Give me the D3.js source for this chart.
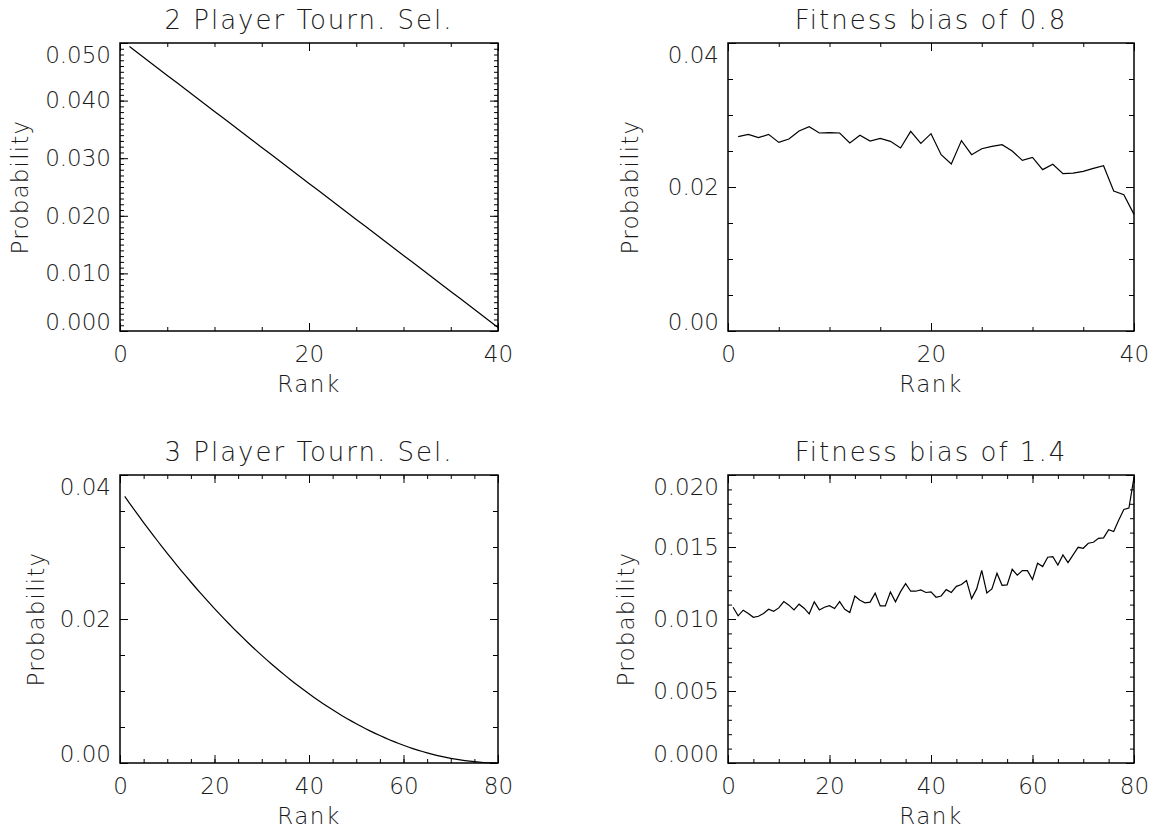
<!DOCTYPE html>
<html><head><meta charset="utf-8">
<script src="https://cdn.jsdelivr.net/npm/d3@7/dist/d3.min.js"></script>
<style>
body{margin:0;background:#fff}
svg text{font-family:"DejaVu Sans",sans-serif;font-weight:200;fill:#1a1a1a}
</style></head>
<body><svg id="chart" width="1158" height="830"></svg>
<script>
// ---- data ----
const ranks40 = d3.range(1, 41);
const ranks80 = d3.range(1, 81);

const twoPlayerProb = [0.049375,0.048125,0.046875,0.045625,0.044375,0.043125,0.041875,0.040625,0.039375,0.038125,
  0.036875,0.035625,0.034375,0.033125,0.031875,0.030625,0.029375,0.028125,0.026875,0.025625,
  0.024375,0.023125,0.021875,0.020625,0.019375,0.018125,0.016875,0.015625,0.014375,0.013125,
  0.011875,0.010625,0.009375,0.008125,0.006875,0.005625,0.004375,0.003125,0.001875,0.000625];

const threePlayerProb = [0.037033,0.036107,0.035193,0.034291,0.033400,0.032521,0.031654,0.030799,0.029955,0.029123,
  0.028303,0.027494,0.026697,0.025912,0.025139,0.024377,0.023627,0.022889,0.022162,0.021447,
  0.020744,0.020053,0.019373,0.018705,0.018049,0.017404,0.016771,0.016150,0.015541,0.014943,
  0.014357,0.013783,0.013221,0.012670,0.012131,0.011604,0.011088,0.010584,0.010092,0.009611,
  0.009143,0.008686,0.008240,0.007807,0.007385,0.006975,0.006576,0.006189,0.005814,0.005451,
  0.005100,0.004760,0.004432,0.004115,0.003811,0.003518,0.003236,0.002967,0.002709,0.002463,
  0.002229,0.002006,0.001795,0.001596,0.001408,0.001232,0.001068,0.000916,0.000775,0.000646,
  0.000529,0.000424,0.000330,0.000248,0.000178,0.000119,0.000072,0.000037,0.000014,0.000002];

const bias08Prob = [0.02699,0.02731,0.02685,0.02731,0.02620,0.02667,0.02778,0.02838,0.02750,0.02755,
  0.02750,0.02611,0.02718,0.02639,0.02676,0.02634,0.02542,0.02773,0.02606,0.02741,
  0.02449,0.02319,0.02644,0.02449,0.02532,0.02565,0.02588,0.02500,0.02370,0.02412,
  0.02241,0.02315,0.02185,0.02194,0.02218,0.02259,0.02296,0.01944,0.01894,0.01620];

const bias14Prob = [0.01082,0.01022,0.01061,0.01038,0.01012,0.01019,0.01038,0.01068,0.01054,0.01077,
  0.01121,0.01096,0.01063,0.01103,0.01075,0.01036,0.01119,0.01063,0.01082,0.01093,
  0.01073,0.01121,0.01068,0.01045,0.01160,0.01130,0.01112,0.01117,0.01179,0.01091,
  0.01091,0.01188,0.01119,0.01190,0.01246,0.01193,0.01193,0.01202,0.01184,0.01188,
  0.01151,0.01160,0.01204,0.01184,0.01227,0.01239,0.01267,0.01142,0.01209,0.01338,
  0.01181,0.01209,0.01318,0.01234,0.01237,0.01345,0.01304,0.01336,0.01336,0.01274,
  0.01387,0.01364,0.01429,0.01433,0.01375,0.01445,0.01392,0.01445,0.01498,0.01491,
  0.01526,0.01533,0.01560,0.01563,0.01620,0.01607,0.01688,0.01761,0.01771,0.01983];

const panelTitles = ["2 Player Tourn. Sel.", "Fitness bias of 0.8", "3 Player Tourn. Sel.", "Fitness bias of 1.4"];
const xTitle = "Rank";
const yTitle = "Probability";

// tick values
const xLabels40 = [0, 20, 40];
const xMinor40 = [0, 5, 10, 15, 20, 25, 30, 35, 40];
const xLabels80 = [0, 20, 40, 60, 80];
const xMinor80 = [0, 5, 10, 15, 20, 25, 30, 35, 40, 45, 50, 55, 60, 65, 70, 75, 80];
const yLabelsTL = [0, 0.01, 0.02, 0.03, 0.04, 0.05];
const yMinorTL = [0,0.001,0.002,0.003,0.004,0.005,0.006,0.007,0.008,0.009,0.010,0.011,0.012,0.013,0.014,0.015,0.016,0.017,0.018,0.019,
  0.020,0.021,0.022,0.023,0.024,0.025,0.026,0.027,0.028,0.029,0.030,0.031,0.032,0.033,0.034,0.035,0.036,0.037,0.038,0.039,
  0.040,0.041,0.042,0.043,0.044,0.045,0.046,0.047,0.048,0.049,0.050];
const yLabels04 = [0, 0.02, 0.04];
const yMinor04 = [0, 0.005, 0.01, 0.015, 0.02, 0.025, 0.03, 0.035, 0.04];
const yLabelsBR = [0, 0.005, 0.010, 0.015, 0.020];
const yMinorBR = [0,0.001,0.002,0.003,0.004,0.005,0.006,0.007,0.008,0.009,0.010,0.011,0.012,0.013,0.014,0.015,0.016,0.017,0.018,0.019,0.020];

// ---- drawing ----
const svg = d3.select("#chart");
const TICK_FONT = 23, TITLE_FONT = 26;

function panel(cfg) {
  const g = svg.append("g");
  const x = d3.scaleLinear().domain(cfg.xDomain).range([cfg.l, cfg.r]);
  const y = d3.scaleLinear().domain(cfg.yDomain).range([cfg.b, cfg.t]);

  const plain = (sel) => { sel.select(".domain").remove(); sel.selectAll("line").attr("stroke", "#000").attr("stroke-width", 1); };

  // minor ticks on all four sides (pointing inward)
  g.append("g").attr("transform", `translate(0,${cfg.b})`).call(d3.axisBottom(x).tickValues(cfg.xMinor).tickSize(-4).tickFormat("")).call(plain);
  g.append("g").attr("transform", `translate(0,${cfg.t})`).call(d3.axisTop(x).tickValues(cfg.xMinor).tickSize(-4).tickFormat("")).call(plain);
  g.append("g").attr("transform", `translate(${cfg.l},0)`).call(d3.axisLeft(y).tickValues(cfg.yMinor).tickSize(-cfg.yMinorLen).tickFormat("")).call(plain);
  g.append("g").attr("transform", `translate(${cfg.r},0)`).call(d3.axisRight(y).tickValues(cfg.yMinor).tickSize(-cfg.yMinorLen).tickFormat("")).call(plain);

  // major ticks + labels
  const xb = g.append("g").attr("transform", `translate(0,${cfg.b})`)
    .call(d3.axisBottom(x).tickValues(cfg.xLabels).tickSize(-8).tickPadding(15).tickFormat(d3.format("d"))).call(plain);
  g.append("g").attr("transform", `translate(0,${cfg.t})`).call(d3.axisTop(x).tickValues(cfg.xLabels).tickSize(-8).tickFormat("")).call(plain);
  const yl = g.append("g").attr("transform", `translate(${cfg.l},0)`)
    .call(d3.axisLeft(y).tickValues(cfg.yLabels).tickSize(-8).tickPadding(9).tickFormat(d3.format(cfg.yFmt))).call(plain);
  g.append("g").attr("transform", `translate(${cfg.r},0)`).call(d3.axisRight(y).tickValues(cfg.yLabels).tickSize(-8).tickFormat("")).call(plain);

  g.selectAll("text").attr("font-size", TICK_FONT).attr("font-family", "DejaVu Sans").attr("fill", "#1a1a1a");
  // keep the end labels of the y axis inside the frame (as in the reference)
  yl.selectAll(".tick text").attr("transform", (d) => {
    if (d === cfg.yDomain[1]) return "translate(0,12)";
    if (d === cfg.yDomain[0]) return "translate(0,-9)";
    return null;
  });

  // frame
  g.append("rect").attr("x", cfg.l).attr("y", cfg.t).attr("width", cfg.r - cfg.l).attr("height", cfg.b - cfg.t)
    .attr("fill", "none").attr("stroke", "#000").attr("stroke-width", 1.5);

  // data line
  const line = d3.line().x((d, i) => x(cfg.xs[i])).y((d) => y(d));
  g.append("path").datum(cfg.values).attr("d", line).attr("fill", "none").attr("stroke", "#000").attr("stroke-width", 1.2);

  // titles
  const cx = (cfg.l + cfg.r) / 2;
  g.append("text").attr("x", cx).attr("y", cfg.t - 14).attr("text-anchor", "middle")
    .attr("font-size", TITLE_FONT).attr("letter-spacing", 2).text(cfg.title);
  g.append("text").attr("x", cx).attr("y", cfg.b + 61).attr("text-anchor", "middle")
    .attr("font-size", TICK_FONT).attr("letter-spacing", 1.5).text(xTitle);
  g.append("text").attr("transform", `translate(${cfg.ylabX},${(cfg.t + cfg.b) / 2}) rotate(-90)`)
    .attr("text-anchor", "middle").attr("dy", "0.35em")
    .attr("font-size", TICK_FONT).attr("letter-spacing", 1.2).text(yTitle);
}

panel({l:120, r:498, t:43, b:331, xDomain:[0,40], yDomain:[0,0.05], xs:ranks40, values:twoPlayerProb,
  xLabels:xLabels40, xMinor:xMinor40, yLabels:yLabelsTL, yMinor:yMinorTL, yMinorLen:4, yFmt:".3f",
  title:panelTitles[0], ylabX:20});
panel({l:728, r:1134, t:43, b:331, xDomain:[0,40], yDomain:[0,0.04], xs:ranks40, values:bias08Prob,
  xLabels:xLabels40, xMinor:xMinor40, yLabels:yLabels04, yMinor:yMinor04, yMinorLen:5, yFmt:".2f",
  title:panelTitles[1], ylabX:630});
panel({l:120, r:498, t:475, b:763, xDomain:[0,80], yDomain:[0,0.04], xs:ranks80, values:threePlayerProb,
  xLabels:xLabels80, xMinor:xMinor80, yLabels:yLabels04, yMinor:yMinor04, yMinorLen:5, yFmt:".2f",
  title:panelTitles[2], ylabX:36});
panel({l:728, r:1134, t:475, b:763, xDomain:[0,80], yDomain:[0,0.02], xs:ranks80, values:bias14Prob,
  xLabels:xLabels80, xMinor:xMinor80, yLabels:yLabelsBR, yMinor:yMinorBR, yMinorLen:4, yFmt:".3f",
  title:panelTitles[3], ylabX:626});
</script></body></html>
